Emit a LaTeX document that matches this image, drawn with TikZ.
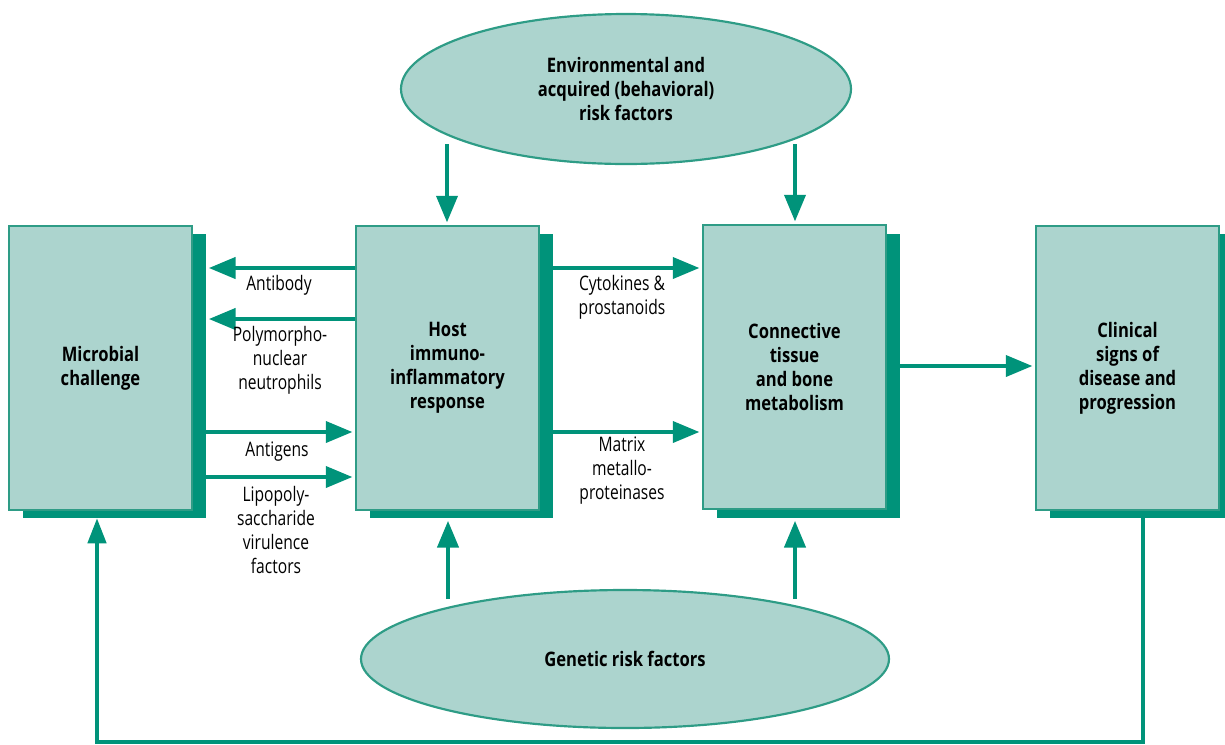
\documentclass[tikz,border=0pt]{standalone}
\usepackage{fontspec}
\setmainfont{Open Sans}[FakeStretch=0.78,BoldFeatures={FakeStretch=0.83}]
\usetikzlibrary{arrows.meta,shapes.geometric}
\definecolor{tealD}{HTML}{00937A}
\definecolor{tealL}{HTML}{ACD4CE}
\definecolor{tealB}{HTML}{2E9C86}
\tikzset{
 boxmain/.style={draw=tealB, line width=1.3pt, fill=tealL, minimum width=109.8pt, minimum height=170.4pt, inner sep=0pt, align=center, font=\bfseries\fontsize{12}{14.4}\selectfont},
 boxshadow/.style={fill=tealD, minimum width=109.8pt, minimum height=170.4pt, inner sep=0pt},
 oval/.style={ellipse, draw=tealB, line width=1.3pt, fill=tealL, inner sep=0pt, align=center, font=\bfseries\fontsize{12}{14.4}\selectfont},
 arr/.style={draw=tealD, line width=2.4pt, -{Triangle[length=16pt,width=12.6pt]}, shorten >=1.5pt},
 loopline/.style={draw=tealD, line width=2.2pt, -{Triangle[length=15pt,width=11pt]}},
 lbl/.style={align=center, font=\fontsize{12}{14.4}\selectfont, inner sep=0pt}
}
\begin{document}
\begin{tikzpicture}[x=0.6pt,y=-0.6pt]
\useasboundingbox (0,0) rectangle (1225,744);
% shadows
\node[boxshadow] (micS) at (114.5,376) {};
\node[boxshadow] (hostS) at (461.5,376) {};
\node[boxshadow] (connS) at (808.5,376) {};
\node[boxshadow] (clinS) at (1141.5,376) {};
% boxes
\node[boxmain] (mic) at (100.5,368) {Microbial\\challenge};
\node[boxmain] (host) at (447.5,368) {Host\\immuno-\\inflammatory\\response};
\node[boxmain] (conn) at (794.5,367) {Connective\\tissue\\and bone\\metabolism};
\node[boxmain] (clin) at (1127.5,368) {Clinical\\signs of\\disease and\\progression};
% ellipses
\node[oval, minimum width=270pt, minimum height=90pt] (env) at (626,89) {Environmental and\\acquired (behavioral)\\risk factors};
\node[oval, minimum width=316.8pt, minimum height=82.8pt] (gen) at (625,659) {Genetic risk factors};
% helper coordinates
\coordinate (ya) at (0,268);
\coordinate (yb) at (0,319);
\coordinate (yc) at (0,432);
\coordinate (yd) at (0,477);
\coordinate (ye) at (0,366);
\coordinate (e1) at (447,144);
\coordinate (e2) at (795,144);
\coordinate (g1) at (448,599);
\coordinate (g2) at (795,599);
\coordinate (f1) at (97,742);
\coordinate (f2) at (1143,742);
% connectors
\draw[arr] (host.west |- ya) -- (micS.east |- ya);
\draw[arr] (host.west |- yb) -- (micS.east |- yb);
\draw[arr] (micS.east |- yc) -- (host.west |- yc);
\draw[arr] (micS.east |- yd) -- (host.west |- yd);
\draw[arr] (hostS.east |- ya) -- (conn.west |- ya);
\draw[arr] (hostS.east |- yc) -- (conn.west |- yc);
\draw[arr] (connS.east |- ye) -- (clin.west |- ye);
\draw[arr] (e1) -- (e1 |- host.north);
\draw[arr] (e2) -- (e2 |- conn.north);
\draw[arr] (g1) -- (g1 |- hostS.south);
\draw[arr] (g2) -- (g2 |- connS.south);
\draw[loopline] (f2 |- clinS.south) -- (f2) -- (f1) -- (f1 |- micS.south);
% labels
\node[lbl] (l1) at (279,285) {Antibody};
\node[lbl] (l2) at (280,360) {Polymorpho-\\nuclear\\neutrophils};
\node[lbl] (l3) at (277,452) {Antigens};
\node[lbl] (l4) at (276,530) {Lipopoly-\\saccharide\\virulence\\factors};
\node[lbl] (l5) at (622,297) {Cytokines \&\\prostanoids};
\node[lbl] (l6) at (622,471) {Matrix\\metallo-\\proteinases};
\end{tikzpicture}
\end{document}
